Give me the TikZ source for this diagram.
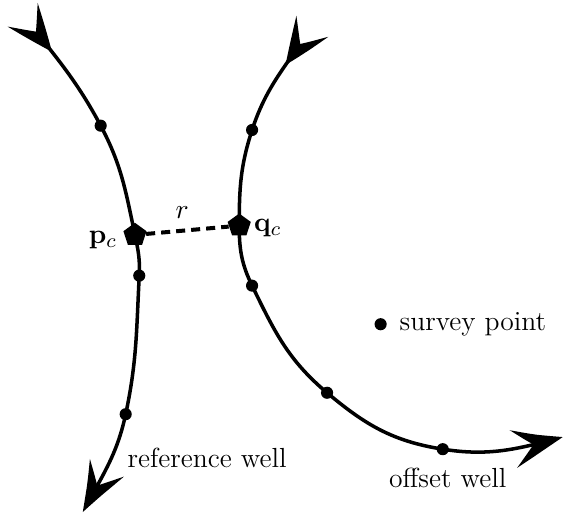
\documentclass[tikz,border=0pt]{standalone}
\usepackage{amsmath,amssymb}
\usepackage{tikz}
\usetikzlibrary{arrows.meta,bending,positioning,shapes.geometric}
\tikzset{
  well/.style={line width=1.4pt,{Stealth[reversed,bend,length=7mm,width=5.3mm,inset=3mm]}-{Stealth[bend,length=7.5mm,width=5.3mm,inset=3.2mm]}},
  sample/.style={circle,fill=black,inner sep=0pt,minimum size=1.7mm},
  closest/.style={regular polygon,regular polygon sides=5,fill=black,inner sep=0pt,minimum size=3.4mm},
  gap/.style={line width=1.6pt,dash pattern=on 3.6pt off 2.4pt},
  lbl/.style={font=\fontsize{11}{13}\selectfont},
}
\begin{document}
\begin{tikzpicture}
    \useasboundingbox (0,0) rectangle (7.94,7.21);
    % ---------------- reference well ----------------
    \coordinate (r0) at (0.32,7.0);
    \node[sample] (r1) at (1.41,5.45) {};
    \node[closest] (pc) at (1.89,3.92) {};
    \node[sample] (r2) at (1.95,3.35) {};
    \node[sample] (r3) at (1.76,1.41) {};
    \coordinate (r4) at (1.16,0.04);
    \draw[well] (r0) to[out=-52,in=118] (r1.center) to[out=-62,in=102] (pc.center)
      to[out=-78,in=87] (r2.center) to[out=-93,in=78] (r3.center) to[out=-102,in=62] (r4);
    \node[lbl] at (1.44,3.85) {$\mathbf{p}_c$};
    \node[lbl] at (2.90,0.80) {reference well};
    % ---------------- offset well ----------------
    \coordinate (o0) at (4.37,6.84);
    \node[sample] (o1) at (3.53,5.39) {};
    \node[closest] (qc) at (3.35,4.05) {};
    \node[sample] (o2) at (3.53,3.21) {};
    \node[sample] (o3) at (4.58,1.71) {};
    \node[sample] (o4) at (6.20,0.92) {};
    \coordinate (o5) at (7.88,1.09);
    \draw[well] (o0) to[out=-123,in=72] (o1.center) to[out=-108,in=90] (qc.center)
      to[out=-90,in=116] (o2.center) to[out=-64,in=140] (o3.center)
      to[out=-40,in=171] (o4.center) to[out=-9,in=195] (o5);
    \node[lbl] at (3.75,4.02) {$\mathbf{q}_c$};
    \node[lbl] at (6.27,0.52) {offset well};
    % closest approach
    \draw[gap] (pc) -- (qc);
    \node[lbl] at (2.55,4.24) {$r$};
    % survey point legend
    \node[sample] (sp) at (5.33,2.67) {};
    \node[lbl,right=0.5mm of sp] {survey point};
  \end{tikzpicture}
\end{document}
